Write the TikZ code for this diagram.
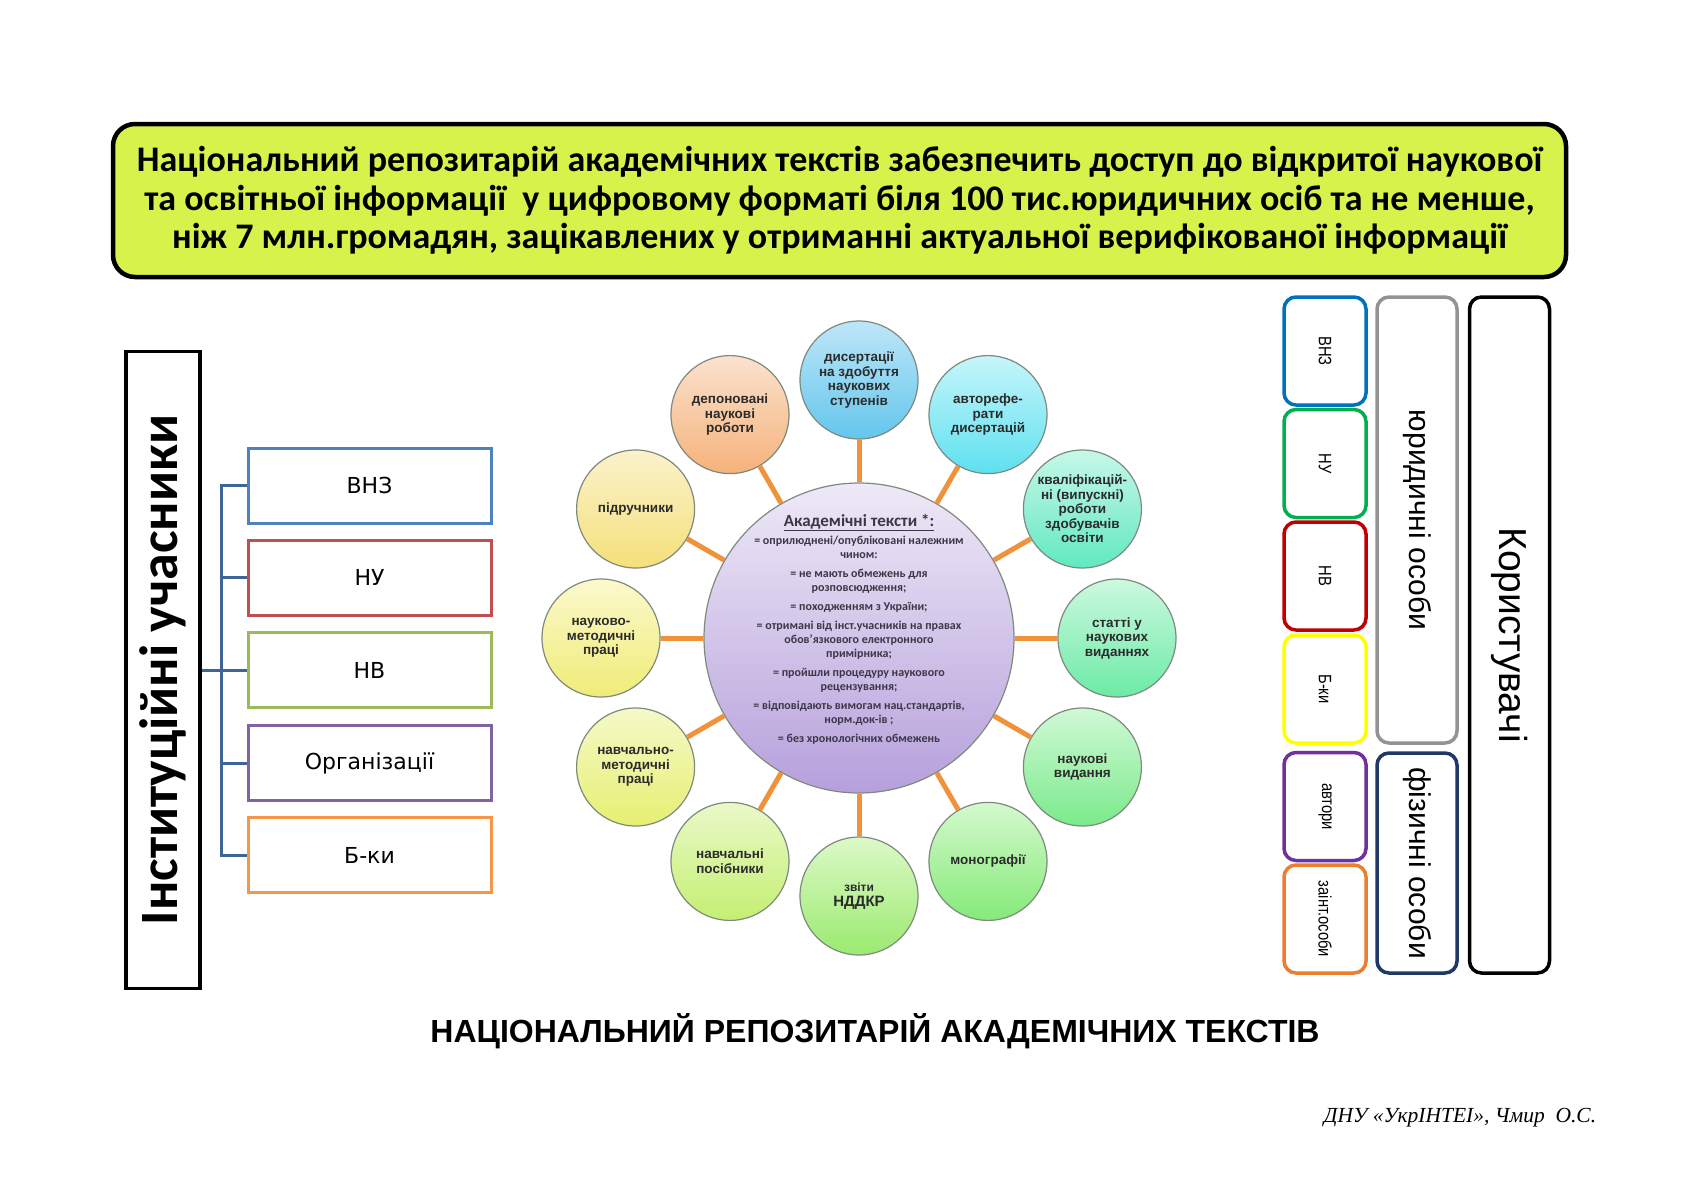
\documentclass[tikz,border=0pt]{standalone}
\usepackage{fontspec}
\setmainfont{Carlito}
\newfontfamily\arialf{Liberation Sans}
\newfontfamily\narrowf[FakeStretch=0.82]{Liberation Sans}
\newfontfamily\dvf{DejaVu Sans}
\newfontfamily\sigf{Liberation Serif}
\definecolor{lime}{HTML}{D8F24C}
\definecolor{brk}{HTML}{3F6597}
\definecolor{cblue}{HTML}{4F81BD}
\definecolor{cred}{HTML}{C0504D}
\definecolor{cgreen}{HTML}{9BBB59}
\definecolor{cpurple}{HTML}{8064A2}
\definecolor{corange}{HTML}{F79646}
\definecolor{rblue}{HTML}{0070C0}
\definecolor{rgreen}{HTML}{00B050}
\definecolor{rred}{HTML}{C00000}
\definecolor{ryellow}{HTML}{FFFF00}
\definecolor{rpurple}{HTML}{7030A0}
\definecolor{rorange}{HTML}{ED7D31}
\definecolor{rgray}{HTML}{939393}
\definecolor{rnavy}{HTML}{1F3864}
\definecolor{spokec}{HTML}{F0923C}
\definecolor{cborder}{HTML}{7F8A7F}
\definecolor{ctext}{HTML}{2B2B2B}
\begin{document}
\begin{tikzpicture}[x=1pt,y=-1pt,
  instbox/.style={draw=black, line width=3.5pt, rotate=90, minimum width=637pt, minimum height=74pt, inner sep=0pt},
  partbox/.style={draw=#1, line width=3pt, minimum width=243pt, minimum height=75pt, inner sep=0pt, font=\dvf\fontsize{22}{26}\selectfont},
  brkline/.style={draw=brk, line width=3pt},
  smallbox/.style={draw=#1, line width=3.5pt, rounded corners=12pt, rotate=-90, minimum width=108pt, minimum height=82pt, inner sep=0pt, font=\narrowf\fontsize{18}{20}\selectfont},
  bigbox/.style={draw=#1, line width=3.5pt, rounded corners=12pt, rotate=-90, minimum height=80pt, inner sep=0pt, font=\arialf\fontsize{30}{34}\selectfont},
  circ/.style={circle, draw=cborder, line width=1.2pt, minimum size=118pt, inner sep=0pt, align=center, text=ctext, font=\arialf\bfseries\fontsize{13.5}{14.5}\selectfont},
  spoke/.style={draw=spokec, line width=5pt}
]
\useasboundingbox (0,0) rectangle (1684,1191);
\fill[white] (0,0) rectangle (1684,1191);

% title banner
\node[draw=black, line width=4.5pt, fill=lime, rounded corners=22pt, minimum width=1453pt, minimum height=153pt, inner sep=0pt, align=center, font=\bfseries\fontsize{36}{38.5}\selectfont] (title) at (839.5,200.5)
{Національний репозитарій академічних текстів забезпечить доступ до відкритої наукової\\
та освітньої інформації\ \ у цифровому форматі біля 100 тис.юридичних осіб та не менше,\\
ніж 7 млн.громадян, зацікавлених у отриманні актуальної верифікованої інформації};

% left: institutional participants
\node[instbox, font=\bfseries\fontsize{54}{58}\selectfont] (inst) at (163,670) {Інституційні учасники};
\node[partbox=cblue] (b1) at (369.5,485.5) {ВНЗ};
\node[partbox=cred] (b2) at (369.5,577.5) {НУ};
\node[partbox=cgreen] (b3) at (369.5,670) {НВ};
\node[partbox=cpurple] (b4) at (369.5,763) {Організації};
\node[partbox=corange] (b5) at (369.5,855) {Б-ки};
\draw[brkline] (inst) -- (b3);
\draw[brkline] (b1.west) -- ++(-25,0) |- (b5.west);
\draw[brkline] (b2.west) -- ++(-25,0);
\draw[brkline] (b4.west) -- ++(-25,0);

% centre circle
\node[circle, draw=cborder, line width=1.2pt, minimum size=310pt, inner sep=0pt, top color={rgb,255:red,238;green,233;blue,247}, bottom color={rgb,255:red,182;green,160;blue,220}] (ctr) at (859,638) {};
\node[align=center, text={rgb,255:red,60;green,55;blue,70}, font=\bfseries\fontsize{12}{14}\selectfont] (ctrtext) at (859,629) {%
{\fontsize{17}{18}\selectfont\underline{Академічні тексти *:}}\\[4pt]
= оприлюднені/опубліковані належним\\ чином:\\[5pt]
= не мають обмежень для\\ розповсюдження;\\[5pt]
= походженням з України;\\[5pt]
= отримані від інст.учасників на правах\\ обов’язкового електронного\\ примірника;\\[5pt]
= пройшли процедуру наукового\\ рецензування;\\[5pt]
= відповідають вимогам нац.стандартів,\\ норм.док-ів ;\\[5pt]
= без хронологічних обмежень};

% outer circles
\node[circ, top color={rgb,255:red,190;green,230;blue,248}, bottom color={rgb,255:red,100;green,198;blue,237}] (c1) at (859,380) {дисертації\\на здобуття\\наукових\\ступенів};
\node[circ, top color={rgb,255:red,198;green,246;blue,251}, bottom color={rgb,255:red,94;green,224;blue,239}] (c2) at (988,414.6) {авторефе-\\рати\\дисертацій};
\node[circ, top color={rgb,255:red,198;green,248;blue,233}, bottom color={rgb,255:red,98;green,232;blue,192}] (c3) at (1082.4,509) {кваліфікацій-\\ні (випускні)\\роботи\\здобувачів\\освіти};
\node[circ, top color={rgb,255:red,204;green,249;blue,224}, bottom color={rgb,255:red,108;green,234;blue,165}] (c4) at (1117,638) {статті у\\наукових\\виданнях};
\node[circ, top color={rgb,255:red,208;green,249;blue,214}, bottom color={rgb,255:red,122;green,234;blue,139}] (c5) at (1082.4,767) {наукові\\видання};
\node[circ, top color={rgb,255:red,212;green,249;blue,206}, bottom color={rgb,255:red,133;green,234;blue,120}] (c6) at (988,861.4) {монографії};
\node[circ, top color={rgb,255:red,220;green,249;blue,200}, bottom color={rgb,255:red,155;green,234;blue,112}] (c7) at (859,896) {{\fontsize{12}{13}\selectfont звіти}\\{\fontsize{15}{16}\selectfont НДДКР}};
\node[circ, top color={rgb,255:red,234;green,249;blue,200}, bottom color={rgb,255:red,196;green,239;blue,114}] (c8) at (730,861.4) {навчальні\\посібники};
\node[circ, top color={rgb,255:red,245;green,249;blue,200}, bottom color={rgb,255:red,230;green,240;blue,114}] (c9) at (635.6,767) {навчально-\\методичні\\праці};
\node[circ, top color={rgb,255:red,251;green,249;blue,204}, bottom color={rgb,255:red,240;green,236;blue,120}] (c10) at (601,638) {науково-\\методичні\\праці};
\node[circ, top color={rgb,255:red,251;green,242;blue,204}, bottom color={rgb,255:red,245;green,224;blue,122}] (c11) at (635.6,509) {підручники};
\node[circ, top color={rgb,255:red,251;green,226;blue,206}, bottom color={rgb,255:red,245;green,178;blue,122}] (c12) at (730,414.6) {депоновані\\наукові\\роботи};
\foreach \i in {1,...,12} { \draw[spoke] (ctr) -- (c\i); }

% right: users
\node[smallbox=rblue] (r1) at (1325,351) {ВНЗ};
\node[smallbox=rgreen] (r2) at (1325,463.5) {НУ};
\node[smallbox=rred] (r3) at (1325,576) {НВ};
\node[smallbox=ryellow] (r4) at (1325,689) {Б-ки};
\node[smallbox=rpurple] (r5) at (1325,806.5) {автори};
\node[smallbox=rorange] (r6) at (1325,919) {заінт.особи};
\node[bigbox=rgray, minimum width=446pt] (jur) at (1417,520) {юридичні особи};
\node[bigbox=rnavy, minimum width=220pt] (fiz) at (1417,863) {фізичні особи};
\node[bigbox=black, minimum width=676pt, font=\arialf\fontsize{39}{44}\selectfont] (users) at (1509.5,635) {Користувачі};

% bottom caption and signature
\node[font=\arialf\bfseries\fontsize{32}{34}\selectfont] (caption) at (875,1031) {НАЦІОНАЛЬНИЙ РЕПОЗИТАРІЙ АКАДЕМІЧНИХ ТЕКСТІВ};
\node[font=\sigf\itshape\fontsize{21.5}{24}\selectfont] (sig) at (1460,1118) {ДНУ «УкрІНТЕІ», Чмир\ \ О.С.};
\end{tikzpicture}
\end{document}
